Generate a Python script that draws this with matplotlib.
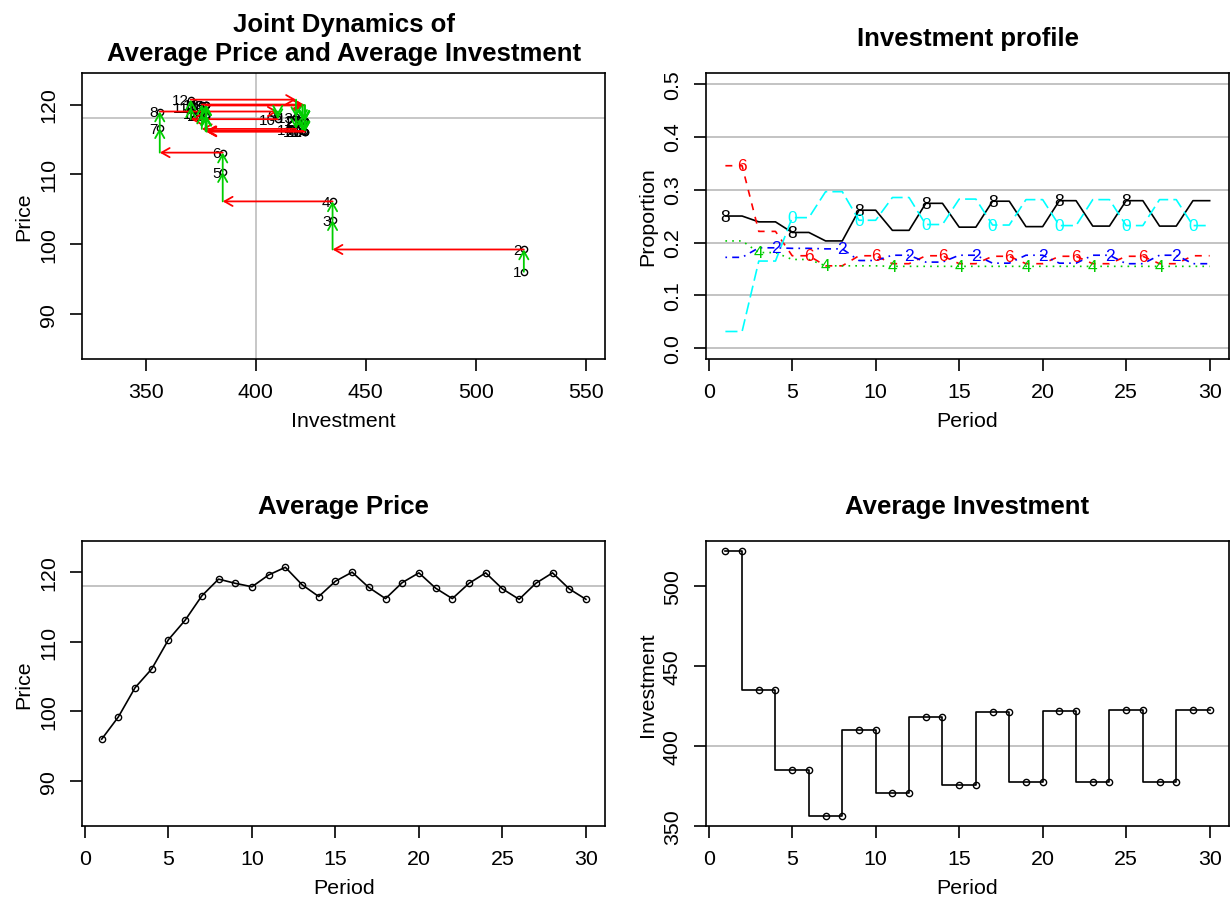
import numpy as np
import matplotlib
matplotlib.use("Agg")
import matplotlib.pyplot as plt

plt.rcParams['font.family'] = ['Liberation Sans', 'DejaVu Sans']
plt.rcParams['lines.scale_dashes'] = False

# ---------------------------------------------------------------- data
period = np.arange(1, 31)

avg_price = np.array([96.0, 99.2, 103.4, 106.1, 110.3, 113.1, 116.6, 119.0, 118.4, 117.9,
                      119.6, 120.7, 118.2, 116.5, 118.7, 120.0, 117.8, 116.2, 118.5, 119.9,
                      117.7, 116.2, 118.4, 119.9, 117.6, 116.1, 118.4, 119.9, 117.6, 116.1])

avg_invest = np.array([521.8, 521.8, 434.9, 434.9, 385.0, 385.0, 356.4, 356.4, 410.0, 410.0,
                       370.5, 370.5, 418.3, 418.3, 375.5, 375.5, 421.2, 421.2, 377.2, 377.2,
                       422.1, 422.1, 377.6, 377.6, 422.3, 422.3, 377.6, 377.6, 422.3, 422.3])

# share of agents choosing each investment level (hundreds)
share_8 = [.250, .250, .239, .239, .219, .219, .203, .203, .261, .261,
           .223, .223, .274, .274, .229, .229, .278, .278, .230, .230,
           .279, .279, .231, .231, .279, .279, .231, .231, .279, .279]
share_6 = [.345, .345, .221, .221, .175, .175, .156, .156, .175, .175,
           .160, .160, .175, .175, .160, .160, .174, .174, .160, .160,
           .174, .174, .160, .160, .174, .174, .160, .160, .175, .175]
share_4 = [.203, .203, .181, .181, .168, .168, .156, .156, .156, .156,
           .155, .155, .155, .155, .155, .155, .155, .155, .155, .155,
           .155, .155, .155, .155, .155, .155, .155, .155, .155, .155]
share_2 = [.172, .172, .190, .190, .189, .189, .188, .188, .166, .166,
           .176, .176, .163, .163, .176, .176, .161, .161, .176, .176,
           .161, .161, .176, .176, .160, .160, .176, .176, .160, .160]
share_0 = [.032, .032, .165, .165, .247, .247, .296, .296, .242, .242,
           .285, .285, .234, .234, .282, .282, .233, .233, .281, .281,
           .232, .232, .281, .281, .232, .232, .281, .281, .232, .232]
level_labels = ["8", "6", "4", "2", "0"]

price_ref = 118
invest_ref = 400
price_ticks = [90, 100, 110, 120]
invest_ticks = [350, 400, 450, 500]
invest_x_ticks = [350, 400, 450, 500, 550]
period_ticks = [0, 5, 10, 15, 20, 25, 30]
share_ticks = [0.0, 0.1, 0.2, 0.3, 0.4, 0.5]

# ---------------------------------------------------------------- style
BASE = 15.4
TITLE = 18.5
GRAY = '#BEBEBE'
GREEN = '#00CD00'
LW = 1.2


def r_extend(lo, hi, f=0.04):
    d = (hi - lo) * f
    return lo - d, hi + d


def style_axes(ax, xlabel, ylabel):
    for s in ax.spines.values():
        s.set_linewidth(LW)
    ax.tick_params(direction='out', length=8.5, width=LW, labelsize=BASE)
    ax.tick_params(axis='x', pad=8)
    ax.tick_params(axis='y', pad=9)
    plt.setp(ax.get_yticklabels(), rotation=90, va='center')
    ax.set_xlabel(xlabel, fontsize=BASE)
    ax.set_ylabel(ylabel, fontsize=BASE)
    ax.xaxis.set_label_coords(0.5, -0.182)
    ax.yaxis.set_label_coords(-0.094, 0.5)


fig = plt.figure(figsize=(12.3, 9.03), dpi=100)
W, H = 0.4252, 0.3167
ax_tl = fig.add_axes([0.0669, 0.6013, W, H])
ax_tr = fig.add_axes([0.5740, 0.6013, W, H])
ax_bl = fig.add_axes([0.0669, 0.0838, W, 0.3163])
ax_br = fig.add_axes([0.5740, 0.0838, W, 0.3163])

period_lim = r_extend(period.min(), period.max())
price_lim = r_extend(85, 123)

# ---------------------------------------------------------------- joint dynamics
ax = ax_tl
ax.axhline(price_ref, color=GRAY, lw=1.2, zorder=0)
ax.axvline(invest_ref, color=GRAY, lw=1.2, zorder=0)
ax.plot(avg_invest, avg_price, 'o', ms=4.5, mfc='none', mec='black', mew=1.0, zorder=2)
for t, (x, y) in enumerate(zip(avg_invest, avg_price), start=1):
    ax.annotate(str(t), (x, y), xytext=(-1.5, -0.5), textcoords='offset points',
                ha='right', va='center', fontsize=11, zorder=2)
head = "->,head_length=0.58,head_width=0.33"
for t in range(len(period) - 1):
    x0, x1 = avg_invest[t], avg_invest[t + 1]
    y0, y1 = avg_price[t], avg_price[t + 1]
    if x1 != x0:
        ax.annotate("", xy=(x1, y0), xytext=(x0, y0),
                    arrowprops=dict(arrowstyle=head, color='red', lw=1.3,
                                    shrinkA=0, shrinkB=0, mutation_scale=10), zorder=3)
    if y1 != y0:
        ax.annotate("", xy=(x1, y1), xytext=(x1, y0),
                    arrowprops=dict(arrowstyle=head, color=GREEN, lw=1.3,
                                    shrinkA=0, shrinkB=0, mutation_scale=10), zorder=4)
ax.set_xlim(r_extend(330, 550))
ax.set_ylim(price_lim)
ax.set_xticks(invest_x_ticks)
ax.set_yticks(price_ticks)
style_axes(ax, "Investment", "Price")
ax.set_title("Joint Dynamics of\nAverage Price and Average Investment",
             fontsize=TITLE, fontweight='bold', pad=9.5, linespacing=1.28)

# ---------------------------------------------------------------- investment profile
ax = ax_tr
for v in share_ticks:
    ax.axhline(v, color=GRAY, lw=1.3, zorder=0)
series = [share_8, share_6, share_4, share_2, share_0]
colors = ['black', 'red', GREEN, 'blue', 'cyan']
dashes = [None, (5, 5), (1.2, 3.7), (1.2, 3.7, 5, 3.7), (8.7, 3.7)]
for k, (vals, col, dsh, lab) in enumerate(zip(series, colors, dashes, level_labels)):
    line, = ax.plot(period, vals, color=col, lw=LW, zorder=2)
    if dsh is not None:
        line.set_dashes(dsh)
    for i in range(k, k + 28, 4):
        ax.text(period[i], vals[i], lab, color=col, fontsize=12.5,
                ha='center', va='center', zorder=3)
ax.set_xlim(period_lim)
ax.set_ylim(r_extend(0, 0.5))
ax.set_xticks(period_ticks)
ax.set_yticks(share_ticks)
ax.set_yticklabels([f"{v:.1f}" for v in share_ticks])
style_axes(ax, "Period", "Proportion")
ax.set_title("Investment profile", fontsize=TITLE, fontweight='bold', pad=20)

# ---------------------------------------------------------------- average price
ax = ax_bl
ax.axhline(price_ref, color=GRAY, lw=1.3, zorder=0)
ax.plot(period, avg_price, '-o', color='black', lw=LW, ms=4.5, mfc='none', mew=1.0)
ax.set_xlim(period_lim)
ax.set_ylim(price_lim)
ax.set_xticks(period_ticks)
ax.set_yticks(price_ticks)
style_axes(ax, "Period", "Price")
ax.set_title("Average Price", fontsize=TITLE, fontweight='bold', pad=20)

# ---------------------------------------------------------------- average investment
ax = ax_br
ax.axhline(invest_ref, color=GRAY, lw=1.3, zorder=0)
ax.step(period, avg_invest, where='pre', color='black', lw=LW)
ax.plot(period, avg_invest, 'o', color='black', ms=4.5, mfc='none', mew=1.0)
ax.set_xlim(period_lim)
ax.set_ylim(r_extend(avg_invest.min(), avg_invest.max()))
ax.set_xticks(period_ticks)
ax.set_yticks(invest_ticks)
style_axes(ax, "Period", "Investment")
ax.set_title("Average Investment", fontsize=TITLE, fontweight='bold', pad=20)

fig.savefig("out.png", dpi=100, facecolor='white')
